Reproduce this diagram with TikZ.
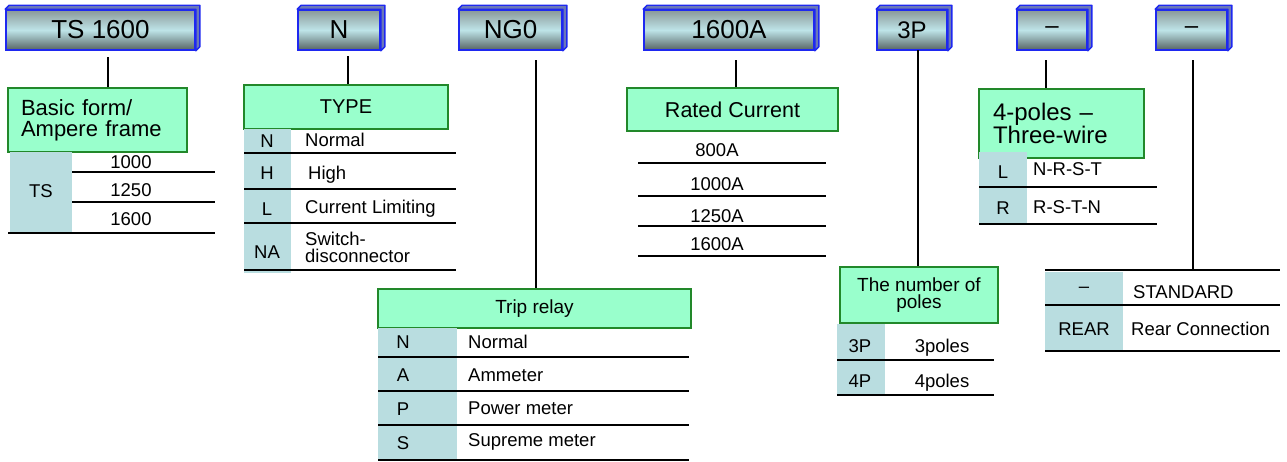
\documentclass[tikz,border=0pt]{standalone}
\usepackage{fontspec}
\setmainfont{Liberation Sans}
\definecolor{boxblue}{HTML}{1E28F0}
\definecolor{depthc}{HTML}{6A78B8}
\definecolor{facetop}{HTML}{8A9898}
\definecolor{facemid}{HTML}{BEE4E8}
\definecolor{facebot}{HTML}{566464}
\definecolor{gfill}{HTML}{99FFCC}
\definecolor{gdraw}{HTML}{22882A}
\definecolor{teal}{HTML}{B9DDE0}
\newcommand\mkdepth[1]{%
  \filldraw[fill=depthc,draw=boxblue,line width=1.4pt,line join=round]
    (#1.north west) -- ++(4,-4) -- ([shift={(4,-4)}]#1.north east)
    -- ([shift={(4,-4)}]#1.south east) -- (#1.south east) -- (#1.north east) -- cycle;}
\newcommand\tx[1]{\fontsize{#1}{#1}\selectfont}
\begin{document}
\begin{tikzpicture}[x=1pt,y=-1pt,
  topbox/.style={draw=boxblue,line width=1.6pt,top color=facetop,bottom color=facebot,middle color=facemid,
     inner sep=0pt,minimum height=40pt,font=\tx{26}},
  greenbox/.style={draw=gdraw,fill=gfill,line width=2.6pt,inner sep=0pt},
  conn/.style={line width=1.8pt},
  rule/.style={line width=1.8pt},
  cell/.style={inner sep=0pt,font=\tx{18.5}},
  lcell/.style={cell,anchor=west}]
\useasboundingbox[fill=white] (0,0) rectangle (1287,461);

% ---------- top boxes ----------
\node[topbox,minimum width=189pt] (t1) at (100.5,30) {\raisebox{-2pt}{TS 1600}};
\node[topbox,minimum width=82pt]  (t2) at (339,30)   {\raisebox{-3pt}{N}};
\node[topbox,minimum width=103pt] (t3) at (510.5,30) {\raisebox{-2pt}{NG0}};
\node[topbox,minimum width=170pt] (t4) at (729,30)   {\raisebox{-2pt}{1600A}};
\node[topbox,minimum width=70pt,font=\tx{24}] (t5) at (912,30)   {\raisebox{-7pt}{3P}};
\node[topbox,minimum width=70pt,font=\tx{24}] (t6) at (1052,30)  {\raisebox{-6pt}{–}};
\node[topbox,minimum width=71pt,font=\tx{24}] (t7) at (1191.5,30){\raisebox{-6pt}{–}};
\foreach \n in {t1,t2,t3,t4,t5,t6,t7} {\mkdepth{\n}}

% ---------- green headers ----------
\node[greenbox,minimum width=179pt,minimum height=64pt,text width=153pt,align=left,
      font=\fontsize{22}{21}\selectfont] (g1) at (97.5,120) {Basic form/\\Ampere frame};
\node[greenbox,minimum width=204pt,minimum height=44pt,font=\tx{20}] (g2) at (346,107) {TYPE};
\node[greenbox,minimum width=313pt,minimum height=39pt,font=\tx{19}] (g3) at (534.5,308.5) {Trip relay};
\node[greenbox,minimum width=211pt,minimum height=43pt,font=\tx{21.5}] (g4) at (732.5,109.5) {Rated Current};
\node[greenbox,minimum width=158pt,minimum height=56pt,align=center,
      font=\fontsize{19}{17}\selectfont] (g5) at (919,295) {The number of\\poles};
\node[greenbox,minimum width=165pt,minimum height=69pt,text width=137pt,align=left,
      font=\fontsize{24}{22}\selectfont] (g6) at (1061.5,123.5) {4-poles –\\Three-wire};

% ---------- connectors ----------
\coordinate (c1) at (108,57);
\coordinate (c2) at (348,56);
\coordinate (c3) at (536,60);
\coordinate (c4) at (736,60);
\coordinate (c5) at (918,50);
\coordinate (c6) at (1046,60);
\coordinate (c7) at (1193,60);
\coordinate (r7) at (1193,270);
\draw[conn] (c1) -- (c1 |- g1.north);
\draw[conn] (c2) -- (c2 |- g2.north);
\draw[conn] (c3) -- (c3 |- g3.north);
\draw[conn] (c4) -- (c4 |- g4.north);
\draw[conn] (c5) -- (c5 |- g5.north);
\draw[conn] (c6) -- (c6 |- g6.north);
\draw[conn] (c7) -- (r7);

% ---------- TS table ----------
\fill[teal] (10,152) rectangle (72,233);
\draw[rule] (72,172) -- (215,172);
\draw[rule] (72,202) -- (215,202);
\draw[rule] (8,233) -- (215,233);
\node[cell] (ts) at (41,191) {TS};
\node[cell] (ts1) at (131,162) {1000};
\node[cell] (ts2) at (131,190) {1250};
\node[cell] (ts3) at (131,219) {1600};

% ---------- TYPE table ----------
\fill[teal] (244,129) rectangle (291,273);
\foreach \y in {153,189,223,270} {\draw[rule] (244,\y) -- (456,\y);}
\node[cell] (ty1) at (267,141) {N};
\node[cell] (ty2) at (267,173) {H};
\node[cell] (ty3) at (267,209) {L};
\node[cell] (ty4) at (267,252) {NA};
\node[lcell] (tz1) at (305,140) {Normal};
\node[lcell] (tz2) at (308,175) {High};
\node[lcell] (tz3) at (305,209) {Current Limiting};
\node[lcell,align=left,font=\fontsize{18.5}{17}\selectfont] (tz4) at (305,247) {Switch-\\disconnector};

% ---------- Trip relay table ----------
\fill[teal] (378,328) rectangle (457,460);
\foreach \y in {357,391,425,460} {\draw[rule] (378,\y) -- (689,\y);}
\node[cell] (tr1) at (403,342) {N};
\node[cell] (tr2) at (403,375) {A};
\node[cell] (tr3) at (403,409) {P};
\node[cell] (tr4) at (403,443) {S};
\node[lcell] (ts1b) at (468,342) {Normal};
\node[lcell] (ts2b) at (468,375) {Ammeter};
\node[lcell] (ts3b) at (468,408) {Power meter};
\node[lcell] (ts4b) at (468,442) {Supreme meter};

% ---------- Rated current table ----------
\foreach \y in {163,196,226,256} {\draw[rule] (638,\y) -- (826,\y);}
\node[cell] (rc1) at (717,150) {800A};
\node[cell] (rc2) at (717,184) {1000A};
\node[cell] (rc3) at (717,216) {1250A};
\node[cell] (rc4) at (717,244) {1600A};

% ---------- poles table ----------
\fill[teal] (837,324) rectangle (885,395);
\draw[rule] (837,360) -- (994,360);
\draw[rule] (837,395) -- (994,395);
\node[cell] (p1) at (860,346) {3P};
\node[cell] (p2) at (860,381) {4P};
\node[cell] (p3) at (942,348) {3poles};
\node[cell] (p4) at (942,383) {4poles};

% ---------- 4-poles table ----------
\fill[teal] (979,152) rectangle (1027,223);
\draw[rule] (979,187) -- (1157,187);
\draw[rule] (979,224) -- (1157,224);
\node[cell] (w1) at (1003,172) {L};
\node[cell] (w2) at (1003,208) {R};
\node[lcell] (w3) at (1033,169) {N-R-S-T};
\node[lcell] (w4) at (1033,207) {R-S-T-N};

% ---------- rear table ----------
\fill[teal] (1045,272) rectangle (1123,350);
\draw[rule] (1045,270) -- (1280,270);
\draw[rule] (1045,305) -- (1280,305);
\draw[rule] (1045,351) -- (1280,351);
\node[cell] (e1) at (1084,290) {–};
\node[cell] (e2) at (1084,329) {REAR};
\node[lcell] (e3) at (1133,292) {STANDARD};
\node[lcell] (e4) at (1131,329) {Rear Connection};
\end{tikzpicture}
\end{document}
